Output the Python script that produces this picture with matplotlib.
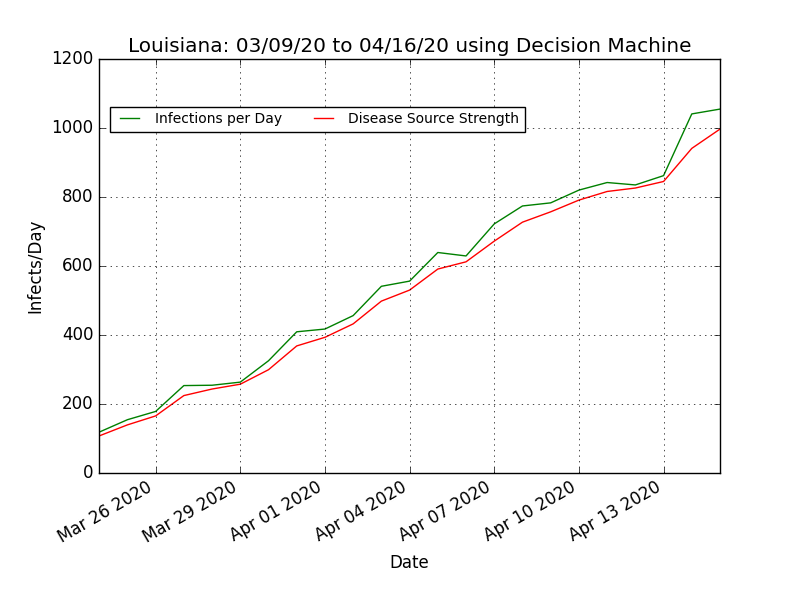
import matplotlib
matplotlib.use("Agg")
import matplotlib.pyplot as plt
import matplotlib.dates as mdates
import numpy as np
import datetime as dt

plt.style.use('classic')

start = dt.date(2020, 3, 24)
dates = [start + dt.timedelta(days=i) for i in range(23)]
infections = [118, 154, 178, 253, 254, 263, 325, 409, 417, 456, 541, 556,
              639, 629, 722, 774, 783, 820, 842, 835, 862, 1041, 1055]
source = [107, 139, 165, 224, 243, 257, 299, 368, 393, 432, 498, 530,
          591, 612, 672, 727, 757, 791, 816, 826, 845, 941, 997]

fig = plt.figure(figsize=(8, 5.91), dpi=100)
ax = fig.add_subplot(111)
ax.plot(dates, infections, color='green', label='Infections per Day')
ax.plot(dates, source, color='red', label='Disease Source Strength')
ax.set_xlim(dates[0], dates[-1])
ax.set_ylim(0, 1200)
ax.xaxis.set_major_locator(mdates.DayLocator(bymonthday=[26, 29, 1, 4, 7, 10, 13]))
ax.xaxis.set_major_formatter(mdates.DateFormatter('%b %d %Y'))
ax.grid(True)
ax.set_xlabel('Date')
ax.set_ylabel('Infects/Day')
ax.set_title('Louisiana: 03/09/20 to 04/16/20 using Decision Machine')
ax.legend(loc='upper left', bbox_to_anchor=(0.0177, 0.885), borderaxespad=0,
          ncol=2, prop={'size': 10})
fig.autofmt_xdate()
fig.subplots_adjust(left=0.124, right=0.9, top=0.9, bottom=0.2)
fig.savefig('out.png', dpi=100)
